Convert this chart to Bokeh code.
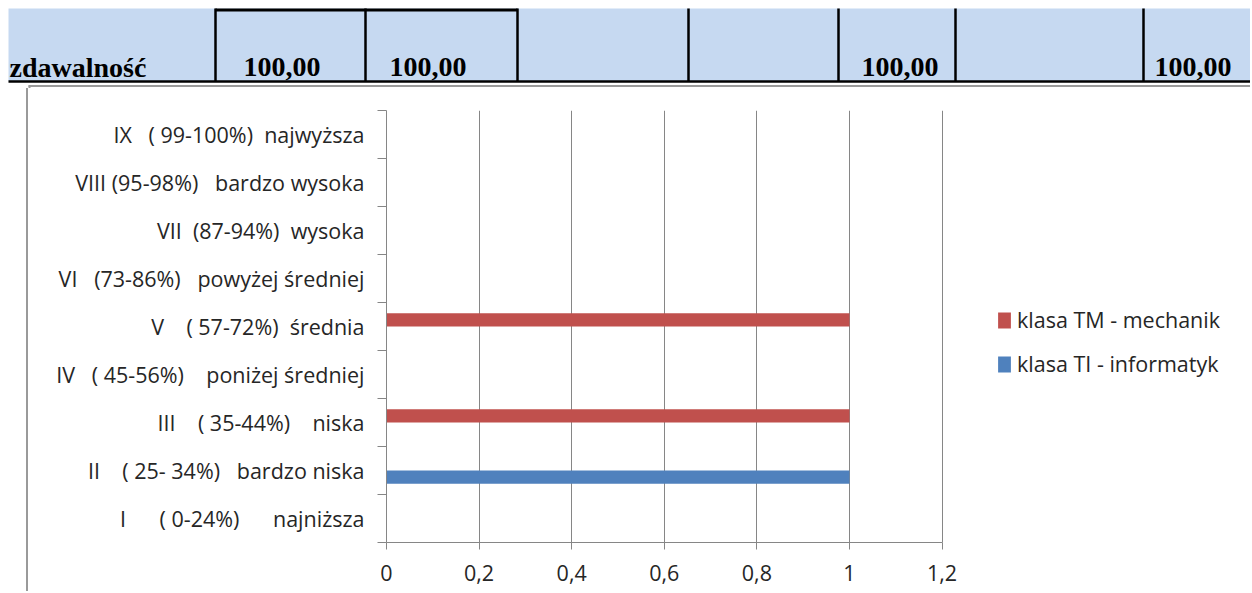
from bokeh.plotting import figure
from bokeh.models import (Range1d, FixedTicker, CustomJSTickFormatter, Legend, LegendItem,
                          ColumnDataSource, Div)
from bokeh.layouts import column, row
from bokeh.transform import dodge
from bokeh.core.properties import value
from bokeh.embed import file_html
from bokeh.resources import INLINE

# ---------------- data ----------------
# categories, bottom to top (as drawn by Excel)
categories = [
    "I      ( 0-24%)      najniższa",
    "II    ( 25- 34%)   bardzo niska",
    "III    ( 35-44%)    niska",
    "IV   ( 45-56%)    poniżej średniej",
    "V    ( 57-72%)  średnia",
    "VI   (73-86%)   powyżej średniej",
    "VII  (87-94%)  wysoka",
    "VIII (95-98%)   bardzo wysoka",
    "IX   ( 99-100%)  najwyższa",
]
series_tm_name = "klasa TM - mechanik"
series_ti_name = "klasa TI - informatyk"
series_tm = [0, 0, 1, 0, 1, 0, 0, 0, 0]
series_ti = [0, 1, 0, 0, 0, 0, 0, 0, 0]
x_ticks = [0, 0.2, 0.4, 0.6, 0.8, 1.0, 1.2]
x_tick_labels = ["0", "0,2", "0,4", "0,6", "0,8", "1", "1,2"]

table_row_label = "zdawalność"
table_values = ["100,00", "100,00", "", "", "100,00", "", "100,00"]

# ---------------- layout / style ----------------
FONT = "Open Sans"
FS = "21.5px"
TEXT = "#262626"
GRID = "#868686"
BORDER = "#9a9a9a"
RED = "#C0504D"
BLUE = "#4F81BD"
TABLE_BG = "#C6D9F1"

W = 1250
TOP_H = 88
cell_edges = [8, 215, 365, 517, 688, 838, 955, 1143, W]
text_offsets = [1, 28, 24, 0, 0, 23, 0, 11]

# ---------------- table strip ----------------
top = figure(width=W, height=TOP_H, x_range=Range1d(0, W), y_range=Range1d(TOP_H, 0),
             x_axis_type=None, y_axis_type=None, min_border=0,
             output_backend="svg", toolbar_location=None)
top.grid.visible = False
top.outline_line_color = None
top.background_fill_color = "white"
top.border_fill_color = "white"

top.quad(left=cell_edges[0], right=W, top=8, bottom=81, fill_color=TABLE_BG, line_color=None)
# chart-area border just below the table
top.segment(x0=28, y0=85.5, x1=W, y1=85.5, line_color=BORDER, line_width=2)
top.segment(x0=29, y0=85, x1=29, y1=TOP_H, line_color=BORDER, line_width=2)
# table borders
top.segment(x0=cell_edges[0], y0=81, x1=W, y1=81, line_color="black", line_width=2.5)
top.segment(x0=cell_edges[1], y0=9.5, x1=cell_edges[3], y1=9.5, line_color="black", line_width=3)
inner = cell_edges[1:-1]
top.segment(x0=inner, y0=[8] * len(inner), x1=inner, y1=[81] * len(inner),
            line_color="black", line_width=2.5)

texts = [table_row_label] + table_values
tx = [cell_edges[i] + text_offsets[i] for i in range(len(texts))]
top.text(x=tx, y=[66.5] * len(texts), text=texts,
         text_font=value("Liberation Serif"), text_font_style="bold",
         text_font_size="28px", text_color="black",
         text_baseline="middle", text_align="left")

# ---------------- left border of the chart area ----------------
CH_H = 503
strip = Div(text="", width=28, height=CH_H, margin=0,
            styles={"border-right": f"2px solid {BORDER}"})

# ---------------- chart ----------------
n = len(categories)
src = ColumnDataSource(dict(
    pos=[i + 0.5 for i in range(n)],
    tm=series_tm,
    ti=series_ti,
))

PLOT_PX = 555.6            # pixels spanned by the 0..1.2 value axis
FRAME_W = 857              # frame also holds the legend area on the right
x_end = x_ticks[-1] * FRAME_W / PLOT_PX

p = figure(frame_width=FRAME_W, frame_height=432,
           min_border_left=358, min_border_right=5, min_border_top=22, min_border_bottom=49,
           x_range=Range1d(0, x_end), y_range=Range1d(0, n),
           output_backend="svg", toolbar_location=None)
p.outline_line_color = None
p.background_fill_color = "white"
p.border_fill_color = "white"

bar_h = 0.275
r_tm = p.hbar(y=dodge("pos", bar_h / 2, range=p.y_range), left=0, right="tm", height=bar_h,
              source=src, fill_color=RED, line_color=None)
r_ti = p.hbar(y=dodge("pos", -bar_h / 2, range=p.y_range), left=0, right="ti", height=bar_h,
              source=src, fill_color=BLUE, line_color=None)

# x axis
xa = p.xaxis[0]
xa.bounds = (x_ticks[0], x_ticks[-1])
xa.ticker = FixedTicker(ticks=x_ticks)
xa.formatter = CustomJSTickFormatter(args=dict(labels=x_tick_labels, vals=x_ticks),
                                     code="const i = vals.indexOf(tick); return i >= 0 ? labels[i] : '';")
xa.axis_line_color = GRID
xa.major_tick_line_color = GRID
xa.major_tick_out = 7
xa.major_tick_in = 0
xa.minor_tick_line_color = None
xa.major_label_text_font = FONT
xa.major_label_text_font_size = FS
xa.major_label_text_color = TEXT
xa.major_label_standoff = 15

# y axis
ya = p.yaxis[0]
labels_nbsp = [c.replace(" ", "\u00a0") for c in categories]
ya.ticker = FixedTicker(ticks=[i + 0.5 for i in range(n)], minor_ticks=list(range(n + 1)))
ya.formatter = CustomJSTickFormatter(args=dict(labels=labels_nbsp),
                                     code="return labels[Math.floor(tick)];")
ya.axis_line_color = GRID
ya.major_tick_out = 0
ya.major_tick_in = 0
ya.major_tick_line_color = None
ya.minor_tick_line_color = GRID
ya.minor_tick_out = 9
ya.minor_tick_in = 0
ya.major_label_text_font = FONT
ya.major_label_text_font_size = FS
ya.major_label_text_color = TEXT
ya.major_label_standoff = 13

p.xgrid.ticker = FixedTicker(ticks=x_ticks)
p.xgrid.grid_line_color = GRID
p.xgrid.grid_line_width = 1
p.ygrid.grid_line_color = None

legend = Legend(items=[LegendItem(label=series_tm_name, renderers=[r_tm]),
                       LegendItem(label=series_ti_name, renderers=[r_ti])],
                location=(610, 164), orientation="vertical",
                border_line_color=None, background_fill_alpha=0,
                padding=0, margin=0, spacing=15, label_standoff=5,
                glyph_width=16, glyph_height=20, label_height=20,
                label_text_font=FONT, label_text_font_size=FS, label_text_color=TEXT)
p.add_layout(legend)

layout = column(top, row(strip, p))
open("out.html", "w").write(file_html(layout, INLINE))
